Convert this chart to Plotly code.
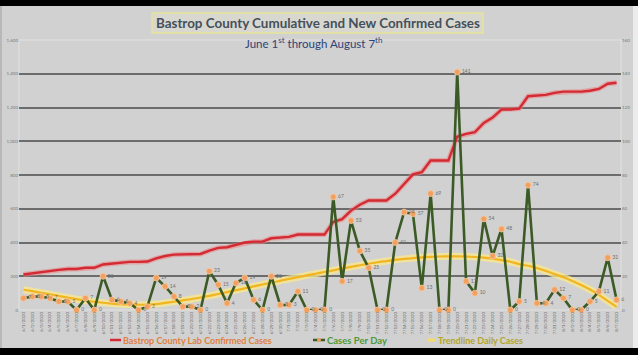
import plotly.graph_objects as go
import pandas as pd

# ---------------- data ----------------
dates = [f"{d.month}/{d.day}/{d.year}" for d in pd.date_range("2020-06-01", "2020-08-07")]

daily_cases = [7, 8, 8, 7, 5, 5, 0, 7, 0, 20,
               6, 5, 4, 0, 2, 19, 14, 8, 2, 2,
               0, 23, 15, 4, 16, 19, 6, 0, 20, 3,
               3, 11, 0, 0, 0, 67, 17, 53, 35, 25,
               0, 0, 40, 58, 57, 13, 69, 0, 0, 141,
               17, 10, 54, 32, 48, 0, 5, 74, 4, 4,
               12, 7, 0, 0, 5, 11, 31, 6]

cumulative_cases = [210, 218, 226, 233, 238, 243, 243, 250, 250, 270,
                    276, 281, 285, 285, 287, 306, 320, 328, 330, 332,
                    332, 352, 368, 372, 384, 400, 405, 405, 425, 428,
                    433, 447, 447, 447, 447, 522, 538, 589, 624, 649,
                    649, 649, 689, 747, 804, 817, 886, 886, 886, 1027,
                    1044, 1054, 1108, 1140, 1188, 1188, 1193, 1267, 1271, 1275,
                    1287, 1294, 1294, 1294, 1299, 1310, 1341, 1347]

trend_daily = [12.0, 11.2, 10.2, 9.3, 8.3, 7.3, 6.4, 5.6, 4.9, 4.3,
               3.8, 3.4, 3.2, 3.1, 3.2, 3.5, 4.2, 4.9, 5.7, 6.5,
               7.4, 8.4, 9.5, 10.6, 11.7, 12.8, 14.0, 15.1, 16.2, 17.3,
               18.4, 19.4, 20.5, 21.5, 22.5, 23.5, 24.6, 25.6, 26.5, 27.4,
               28.3, 29.0, 29.7, 30.3, 30.8, 31.2, 31.5, 31.7, 31.8, 31.8,
               31.7, 31.4, 31.0, 30.4, 29.6, 28.6, 27.2, 26.2, 24.9, 23.2,
               21.3, 19.4, 17.2, 14.8, 12.1, 9.0, 5.4, 1.8]

left_ticks = [0, 200, 400, 600, 800, 1000, 1200, 1400, 1600]
right_ticks = [0, 20, 40, 60, 80, 100, 120, 140, 160]
grid_vals = left_ticks[1:-1]

title_text = "Bastrop County Cumulative and New Confirmed Cases"
subtitle_text = "June 1<sup>st</sup> through August 7<sup>th</sup>"
legend_names = ["Bastrop County Lab Confirmed Cases", "Cases Per Day", "Trendline Daily Cases"]

# ---------------- layout geometry ----------------
W, H = 638, 355
ML, MR, MT, MB = 19, 17, 40, 45
PW, PH = W - ML - MR, H - MT - MB


def fx(px):
    return (px - ML) / PW


def fy(py):
    return (H - MB - py) / PH


FONT = "Lato"
PANEL = "#d1d1d1"
fig = go.Figure()

# cumulative (left axis)
fig.add_trace(go.Scatter(x=dates, y=cumulative_cases, mode="lines", yaxis="y",
                         line=dict(color="rgba(235,130,130,0.55)", width=5), hoverinfo="skip"))
fig.add_trace(go.Scatter(x=dates, y=cumulative_cases, mode="lines", yaxis="y",
                         name=legend_names[0], line=dict(color="#d42a33", width=2.4)))

# trendline (right axis)
fig.add_trace(go.Scatter(x=dates, y=trend_daily, mode="lines", yaxis="y2",
                         line=dict(color="rgba(250,232,140,0.75)", width=7, shape="spline"),
                         hoverinfo="skip"))
fig.add_trace(go.Scatter(x=dates, y=trend_daily, mode="lines", yaxis="y2",
                         name=legend_names[2], line=dict(color="#f2b522", width=2.2, shape="spline")))

# daily (right axis)
fig.add_trace(go.Scatter(x=dates, y=daily_cases, mode="lines+markers+text", yaxis="y2",
                         name=legend_names[1],
                         line=dict(color="#3b5a26", width=2.6),
                         marker=dict(color="#f2a060", size=6, line=dict(color="#f7c9a0", width=0.8)),
                         text=[str(v) for v in daily_cases], textposition="middle right",
                         textfont=dict(family=FONT, size=5, color="#6e6e6e"), cliponaxis=False))

shapes = [
    # gray panel on black page
    dict(type="rect", xref="paper", yref="paper", x0=fx(2), x1=fx(633), y0=fy(348), y1=fy(6),
         fillcolor=PANEL, line=dict(width=0), layer="below"),
    dict(type="rect", xref="paper", yref="paper", x0=fx(633), x1=fx(W + 2), y0=fy(348), y1=fy(6),
         fillcolor="#ececec", line=dict(width=0), layer="below"),
    dict(type="rect", xref="paper", yref="paper", x0=fx(-2), x1=fx(2), y0=fy(348), y1=fy(6),
         fillcolor="#b8b8b8", line=dict(width=0), layer="below"),
    # plot area outline
    dict(type="rect", xref="paper", yref="paper", x0=0, x1=1, y0=0, y1=1,
         line=dict(color="#e2e2e2", width=1), layer="below"),
    # title box
    dict(type="rect", xref="paper", yref="paper", x0=fx(152), x1=fx(483), y0=fy(33), y1=fy(13),
         fillcolor="#d8d8d0", line=dict(color="#e6e39a", width=1.5), layer="below"),
    # legend symbols
    dict(type="line", xref="paper", yref="paper", x0=fx(110), x1=fx(121), y0=fy(340), y1=fy(340),
         line=dict(color="#d42a33", width=2.5)),
    dict(type="line", xref="paper", yref="paper", x0=fx(313), x1=fx(325), y0=fy(340), y1=fy(340),
         line=dict(color="#3b5a26", width=2.5)),
    dict(type="circle", xref="paper", yref="paper", x0=fx(317), x1=fx(321), y0=fy(342), y1=fy(338),
         fillcolor="#f2a060", line=dict(width=0)),
    dict(type="line", xref="paper", yref="paper", x0=fx(428), x1=fx(436), y0=fy(340), y1=fy(340),
         line=dict(color="#f5dc6a", width=3)),
]

annotations = [
    dict(text=f"<b>{title_text}</b>", x=fx(317.5), y=fy(23), xref="paper", yref="paper",
         showarrow=False, xanchor="center", yanchor="middle",
         font=dict(family=FONT, size=13.4, color="#46505c")),
    dict(text=subtitle_text, x=fx(313), y=fy(43), xref="paper", yref="paper",
         showarrow=False, xanchor="center", yanchor="middle",
         font=dict(family=FONT, size=11.5, color="#2e4478")),
    dict(text=f"<b>{legend_names[0]}</b>", x=fx(121), y=fy(340), xref="paper", yref="paper",
         showarrow=False, xanchor="left", yanchor="middle",
         font=dict(family=FONT, size=9, color="#df8040")),
    dict(text=f"<b>{legend_names[1]}</b>", x=fx(325), y=fy(340), xref="paper", yref="paper",
         showarrow=False, xanchor="left", yanchor="middle",
         font=dict(family=FONT, size=9.5, color="#4e9a36")),
    dict(text=f"<b>{legend_names[2]}</b>", x=fx(436), y=fy(340), xref="paper", yref="paper",
         showarrow=False, xanchor="left", yanchor="middle",
         font=dict(family=FONT, size=9, color="#b2a52c")),
]

fig.update_layout(
    width=W, height=H,
    margin=dict(l=ML, r=MR, t=MT, b=MB, pad=0),
    paper_bgcolor="#000000", plot_bgcolor=PANEL,
    showlegend=False,
    shapes=shapes, annotations=annotations,
    font=dict(family=FONT),
    xaxis=dict(type="category", range=[-0.5, len(dates) - 0.5], showgrid=False, zeroline=False,
               showline=False, ticks="", tickangle=-90, automargin=False,
               tickfont=dict(family=FONT, size=4.5, color="#6a6a6a")),
    yaxis=dict(range=[0, 1600], tickvals=left_ticks, tickformat=",", showgrid=False, zeroline=False,
               showline=False, ticks="", automargin=False,
               tickfont=dict(family=FONT, size=4.5, color="#7a7a7a"),
               minor=dict(tickvals=grid_vals, showgrid=True, gridcolor="#6c6c6c", gridwidth=1.6, ticks="")),
    yaxis2=dict(range=[0, 160], tickvals=right_ticks, overlaying="y", side="right", showgrid=False,
                zeroline=False, showline=False, ticks="", automargin=False,
                tickfont=dict(family=FONT, size=4.5, color="#7a7a7a")),
)

fig.write_html("out.html", config={"displayModeBar": False},
               post_script="document.body.style.margin='0px';document.body.style.overflow='hidden';")
